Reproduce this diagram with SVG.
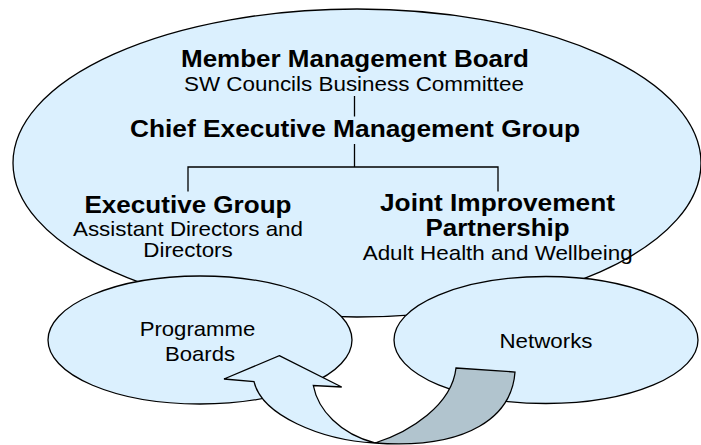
<svg xmlns="http://www.w3.org/2000/svg" width="701" height="445" viewBox="0 0 701 445">
<style>
.shape{fill:#DBF0FE;stroke:#000;stroke-width:1.3}
.b{font-family:"Liberation Sans",Arial,sans-serif;font-weight:bold;font-size:23px;fill:#000;text-anchor:middle}
.r{font-family:"Liberation Sans",Arial,sans-serif;font-size:21px;fill:#000;text-anchor:middle}
.ln{fill:none;stroke:#000;stroke-width:1.3}
</style>
<rect width="701" height="445" fill="#fff"/>
<g id="outer">
<ellipse class="shape" cx="357" cy="163" rx="344" ry="154"/>
</g>
<g id="connectors">
<path class="ln" d="M354.5,96 V116.5"/>
<path class="ln" d="M354.5,144 V167 M188,191.5 V167 H498 V191.5"/>
</g>
<g id="member-board">
<text class="b" x="355" y="66.5" textLength="348" lengthAdjust="spacingAndGlyphs">Member Management Board</text>
<text class="r" x="354" y="90.5" textLength="340" lengthAdjust="spacingAndGlyphs">SW Councils Business Committee</text>
</g>
<g id="chief-exec">
<text class="b" x="355" y="136.5" textLength="450" lengthAdjust="spacingAndGlyphs">Chief Executive Management Group</text>
</g>
<g id="exec-group">
<text class="b" x="188" y="213.3" textLength="207" lengthAdjust="spacingAndGlyphs">Executive Group</text>
<text class="r" x="188" y="235.7" textLength="230" lengthAdjust="spacingAndGlyphs">Assistant Directors and</text>
<text class="r" x="188" y="257.3" textLength="89.5" lengthAdjust="spacingAndGlyphs">Directors</text>
</g>
<g id="jip">
<text class="b" x="497.5" y="211" textLength="235" lengthAdjust="spacingAndGlyphs">Joint Improvement</text>
<text class="b" x="497.5" y="235.5" textLength="144" lengthAdjust="spacingAndGlyphs">Partnership</text>
<text class="r" x="497.7" y="259.5" textLength="270" lengthAdjust="spacingAndGlyphs">Adult Health and Wellbeing</text>
</g>
<g id="programme-boards">
<ellipse class="shape" cx="200" cy="340" rx="152" ry="64"/>
<text class="r" x="197.5" y="336" textLength="115.7" lengthAdjust="spacingAndGlyphs">Programme</text>
<text class="r" x="200" y="361" textLength="70" lengthAdjust="spacingAndGlyphs">Boards</text>
</g>
<g id="networks">
<ellipse class="shape" cx="546" cy="340" rx="152" ry="63.5"/>
<text class="r" x="546" y="348.3" textLength="93" lengthAdjust="spacingAndGlyphs">Networks</text>
</g>
<g id="cycle-arrow" stroke="#000" stroke-width="1.3" stroke-linejoin="miter">
<path fill="#B1C4CE" d="M456,368 L515,372 C512,415 470,450 375,443 C410,432 452,405 456,368 Z"/>
<path fill="#DBF0FE" d="M279.3,355.7 L341.7,387 L313.3,385.5 C318,410 340,434 375,443 C320,440 262,415 254,381.7 L224,379 Z"/>
</g>
</svg>
